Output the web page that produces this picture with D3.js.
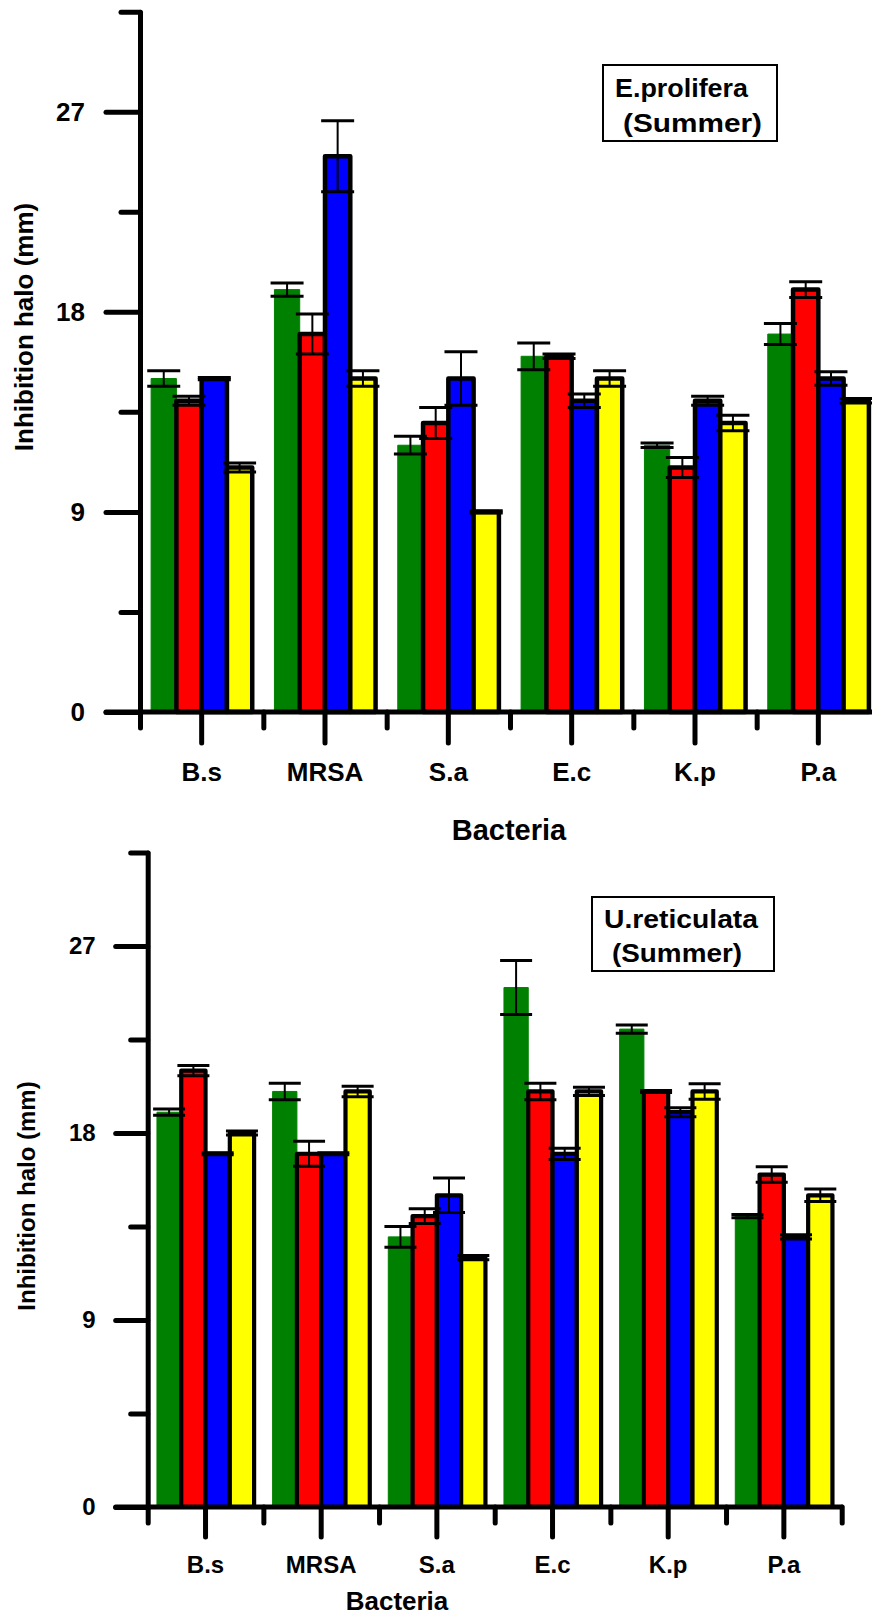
<!DOCTYPE html>
<html lang="en">
<head>
    <meta charset="utf-8">
    <title>Inhibition halo - summer</title>
    <style>
        body {
            margin: 0;
            background: #fff;
        }
        svg text {
            font-family: "Liberation Sans", Arial, sans-serif;
            font-weight: bold;
            fill: #000;
        }
        .axis path, .axis line {
            stroke: #000;
            stroke-width: 5px;
            stroke-linecap: round;
        }
        .xline {
            stroke: #000;
            stroke-width: 5px;
            stroke-linecap: round;
        }
        .err {
            stroke: #000;
        }
        .legend rect {
            fill: #fff;
            stroke: #000;
            stroke-width: 2px;
        }
    </style>
    <script src="https://cdn.jsdelivr.net/npm/d3@7"></script>
</head>
<body>
<div id="chart"></div>
<script>
// categories and ticks
var categories = ["B.s", "MRSA", "S.a", "E.c", "K.p", "P.a"];
var seriesColors = ["#008000", "#ff0000", "#0000ff", "#ffff00"];
var yMajorTicks = [0, 9, 18, 27];
var yMinorTicks = [4.5, 13.5, 22.5, 31.5];
var yMax = 31.5;

// E.prolifera (Summer)
var epGreen = [15, 19, 12, 16, 12, 17];
var epRed = [14, 17, 13, 16, 11, 19];
var epBlue = [15, 25, 15, 14, 14, 15];
var epYellow = [11, 15, 9, 15, 13, 14];
var epGreenErr = [0.35, 0.3, 0.4, 0.6, 0.1, 0.47];
var epRedErr = [0.2, 0.9, 0.7, 0.1, 0.45, 0.35];
var epBlueErr = [0.05, 1.6, 1.2, 0.3, 0.2, 0.3];
var epYellowErr = [0.2, 0.35, 0.05, 0.35, 0.35, 0.1];

// U.reticulata (Summer)
var urGreen = [19, 20, 13, 25, 23, 14];
var urRed = [21, 17, 14, 20, 20, 16];
var urBlue = [17, 17, 15, 17, 19, 13];
var urYellow = [18, 20, 12, 20, 20, 15];
var urGreenErr = [0.15, 0.4, 0.5, 1.3, 0.2, 0.08];
var urRedErr = [0.25, 0.6, 0.35, 0.4, 0.05, 0.37];
var urBlueErr = [0.05, 0.05, 0.83, 0.27, 0.22, 0.1];
var urYellowErr = [0.1, 0.25, 0.1, 0.2, 0.37, 0.3];

var svg = d3.select("#chart").append("svg")
    .attr("width", 872)
    .attr("height", 1617);

// layout of the two panels
var cTop = {
    left: 140, right: 880, bottom: 712, top: 11.7,
    pad: 0.18, barStroke: 4.5, capW: 33,
    majorLen: 34, minorLen: 19, labelGap: 21,
    xMajorLen: 31, xMinorLen: 16, xLabelGap: 20,
    fs: 26, titleFs: 29, titleX: 509, titleY: 840,
    yTitleX: 33, yTitleY: 327,
    box: { x: 603, y: 65, w: 174, h: 76, fs: 26,
           l1x: 615, l1y: 97, l1w: 133, l2x: 623, l2y: 132, l2w: 139 },
    label1: "E.prolifera", label2: "(Summer)"
};
var cBottom = {
    left: 147.7, right: 841.7, bottom: 1507, top: 852.5,
    pad: 0.16, barStroke: 4.2, capW: 32,
    majorLen: 32, minorLen: 17, labelGap: 20,
    xMajorLen: 30, xMinorLen: 16, xLabelGap: 19,
    fs: 24, titleFs: 26, titleX: 397, titleY: 1610,
    yTitleX: 35, yTitleY: 1196,
    box: { x: 592, y: 897, w: 182, h: 74, fs: 26,
           l1x: 604, l1y: 928, l1w: 154, l2x: 612, l2y: 962, l2w: 130 },
    label1: "U.reticulata", label2: "(Summer)"
};

function drawChart(c, values, errors) {
    var g = svg.append("g");

    var x0 = d3.scaleBand()
        .domain(categories)
        .range([c.left, c.right])
        .paddingInner(c.pad)
        .paddingOuter(c.pad / 2);
    var x1 = d3.scaleBand()
        .domain(d3.range(values.length))
        .range([0, x0.bandwidth()]);
    var y = d3.scaleLinear()
        .domain([0, yMax])
        .range([c.bottom, c.top]);

    // bars
    values.forEach(function(vals, i) {
        g.selectAll(".bar" + i)
            .data(vals)
            .enter().append("rect")
            .attr("x", function(d, j) { return x0(categories[j]) + x1(i); })
            .attr("y", function(d) { return y(d); })
            .attr("width", x1.bandwidth())
            .attr("height", function(d) { return y(0) - y(d); })
            .style("fill", seriesColors[i])
            .style("stroke", i === 0 ? seriesColors[i] : "#000")
            .style("stroke-width", i === 0 ? 1 : c.barStroke)
            .style("stroke-linejoin", "round");
    });

    // error bars
    values.forEach(function(vals, i) {
        vals.forEach(function(v, j) {
            var cx = x0(categories[j]) + x1(i) + x1.bandwidth() / 2;
            var e = errors[i][j];
            g.append("line").attr("class", "err")
                .attr("x1", cx).attr("x2", cx)
                .attr("y1", y(v + e)).attr("y2", y(v - e))
                .style("stroke-width", 2);
            [v + e, v - e].forEach(function(w) {
                g.append("line").attr("class", "err")
                    .attr("x1", cx - c.capW / 2).attr("x2", cx + c.capW / 2)
                    .attr("y1", y(w)).attr("y2", y(w))
                    .style("stroke-width", 3);
            });
        });
    });

    // y axis, major and minor ticks
    g.append("g")
        .attr("class", "axis")
        .attr("transform", "translate(" + c.left + ",0)")
        .call(d3.axisLeft(y).tickValues(yMajorTicks).tickSize(c.majorLen)
            .tickSizeOuter(0).tickPadding(c.labelGap).tickFormat(d3.format("d")))
        .selectAll("text").style("font-size", c.fs + "px");
    var minorY = g.append("g")
        .attr("class", "axis")
        .attr("transform", "translate(" + c.left + ",0)")
        .call(d3.axisLeft(y).tickValues(yMinorTicks).tickSize(c.minorLen)
            .tickSizeOuter(0).tickFormat(""));
    minorY.select(".domain").remove();

    // x axis
    g.append("line")
        .attr("class", "xline")
        .attr("x1", c.left - c.majorLen).attr("x2", c.right)
        .attr("y1", y(0)).attr("y2", y(0));
    var xAxis = g.append("g")
        .attr("class", "axis")
        .attr("transform", "translate(0," + y(0) + ")")
        .call(d3.axisBottom(x0).tickSize(c.xMajorLen).tickPadding(c.xLabelGap).tickSizeOuter(0));
    xAxis.select(".domain").remove();
    xAxis.selectAll("text").style("font-size", c.fs + "px");

    var xEdge = d3.scaleLinear().domain([0, categories.length]).range([c.left, c.right]);
    var minorX = g.append("g")
        .attr("class", "axis")
        .attr("transform", "translate(0," + y(0) + ")")
        .call(d3.axisBottom(xEdge).tickValues(d3.range(categories.length + 1))
            .tickSize(c.xMinorLen).tickSizeOuter(0).tickFormat(""));
    minorX.select(".domain").remove();

    // axis titles
    g.append("text")
        .attr("x", c.titleX)
        .attr("y", c.titleY)
        .style("text-anchor", "middle")
        .style("font-size", c.titleFs + "px")
        .text("Bacteria");

    g.append("text")
        .attr("transform", "translate(" + c.yTitleX + "," + c.yTitleY + ") rotate(-90)")
        .style("text-anchor", "middle")
        .style("font-size", c.fs + "px")
        .text("Inhibition halo (mm)");

    // label box
    var lg = g.append("g").attr("class", "legend");
    lg.append("rect")
        .attr("x", c.box.x).attr("y", c.box.y)
        .attr("width", c.box.w).attr("height", c.box.h);
    lg.append("text")
        .attr("x", c.box.l1x).attr("y", c.box.l1y)
        .attr("textLength", c.box.l1w)
        .attr("lengthAdjust", "spacingAndGlyphs")
        .style("font-size", c.box.fs + "px")
        .text(c.label1);
    lg.append("text")
        .attr("x", c.box.l2x).attr("y", c.box.l2y)
        .attr("textLength", c.box.l2w)
        .attr("lengthAdjust", "spacingAndGlyphs")
        .style("font-size", c.box.fs + "px")
        .text(c.label2);
}

drawChart(cTop,
    [epGreen, epRed, epBlue, epYellow],
    [epGreenErr, epRedErr, epBlueErr, epYellowErr]);
drawChart(cBottom,
    [urGreen, urRed, urBlue, urYellow],
    [urGreenErr, urRedErr, urBlueErr, urYellowErr]);
</script>
</body>
</html>
